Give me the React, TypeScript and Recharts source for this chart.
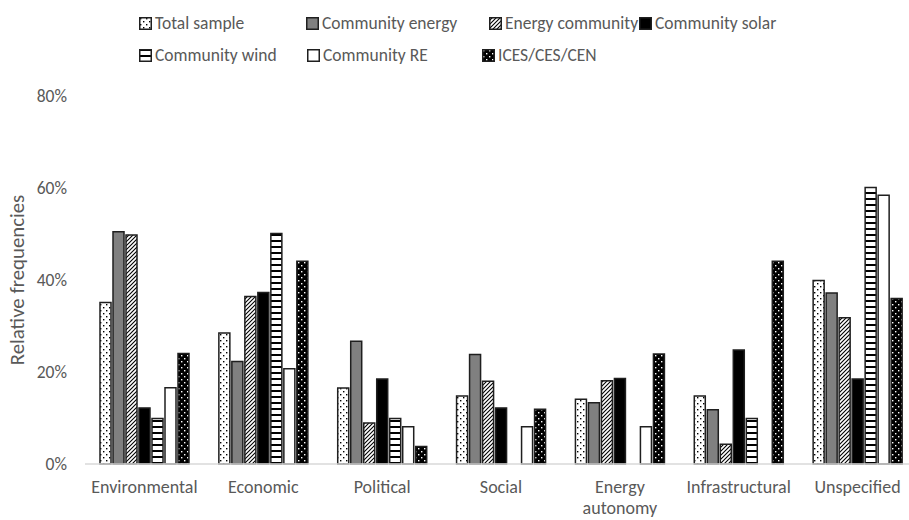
import React from "react";
import { BarChart, Bar, XAxis, YAxis } from "recharts";

const categories = [
  "Environmental",
  "Economic",
  "Political",
  "Social",
  "Energy autonomy",
  "Infrastructural",
  "Unspecified",
];
const tickLines = [
  ["Environmental"],
  ["Economic"],
  ["Political"],
  ["Social"],
  ["Energy", "autonomy"],
  ["Infrastructural"],
  ["Unspecified"],
];

const totalSample = [35.1, 28.5, 16.5, 14.8, 14.1, 14.8, 39.9];
const communityEnergy = [50.5, 22.3, 26.7, 23.8, 13.3, 11.8, 37.2];
const energyCommunity = [49.8, 36.4, 8.9, 18.0, 18.1, 4.3, 31.8];
const communitySolar = [12.2, 37.3, 18.5, 12.2, 18.6, 24.8, 18.5];
const communityWind = [9.9, 50.1, 9.9, 0, 0, 9.9, 60.1];
const communityRE = [16.6, 20.7, 8.1, 8.1, 8.1, 0, 58.4];
const ices = [24.0, 44.1, 3.8, 11.9, 23.9, 44.1, 36.0];

const yTicks = [0, 20, 40, 60, 80];

const series = [
  { key: "total", name: "Total sample", values: totalSample, fill: "url(#pDots)" },
  { key: "ce", name: "Community energy", values: communityEnergy, fill: "#808080" },
  { key: "ec", name: "Energy community", values: energyCommunity, fill: "url(#pDiag)" },
  { key: "cs", name: "Community solar", values: communitySolar, fill: "#000000" },
  { key: "cw", name: "Community wind", values: communityWind, fill: "url(#pHoriz)" },
  { key: "re", name: "Community RE", values: communityRE, fill: "#ffffff" },
  { key: "ices", name: "ICES/CES/CEN", values: ices, fill: "url(#pDotsDark)" },
];

const data = categories.map((c, i) => {
  const row: Record<string, any> = { name: c, idx: i };
  series.forEach((s) => (row[s.key] = s.values[i]));
  return row;
});

// legend placement (rows like the Excel legend)
const legendPos = [
  { x: 139, y: 23 },
  { x: 306, y: 23 },
  { x: 489, y: 23 },
  { x: 639, y: 23 },
  { x: 139, y: 55 },
  { x: 307, y: 55 },
  { x: 482, y: 55 },
];

const FONT = "Calibri, Carlito, 'Liberation Sans', Arial, sans-serif";
const TEXT = "#595959";
const OUTLINE = "#1f1f1f";

function XTick(props: any) {
  const { x, y, payload } = props;
  const lines = tickLines[payload.index] || [String(payload.value)];
  return (
    <text x={x} y={y} textAnchor="middle" fill={TEXT} fontSize={18} fontFamily={FONT}>
      {lines.map((l, i) => (
        <tspan key={i} x={x} dy={i === 0 ? 21 : 21}>
          {l}
        </tspan>
      ))}
    </text>
  );
}

export default function App() {
  return (
    <div
      style={{
        position: "absolute",
        left: 0,
        top: 0,
        width: 909,
        height: 520,
        overflow: "hidden",
        background: "#fff",
        fontFamily: FONT,
      }}
    >
      <svg width={0} height={0} style={{ position: "absolute" }}>
        <defs>
          <pattern id="pDots" width={6} height={6} patternUnits="userSpaceOnUse">
            <rect width={6} height={6} fill="#fff" />
            <rect x={1} y={1} width={1.4} height={1.4} fill="#000" />
            <rect x={4} y={4} width={1.4} height={1.4} fill="#000" />
          </pattern>
          <pattern id="pDotsDark" width={6} height={6} patternUnits="userSpaceOnUse">
            <rect width={6} height={6} fill="#000" />
            <rect x={1} y={1} width={1.4} height={1.4} fill="#fff" />
            <rect x={4} y={4} width={1.4} height={1.4} fill="#fff" />
          </pattern>
          <pattern id="pDiag" width={4} height={4} patternUnits="userSpaceOnUse">
            <rect width={4} height={4} fill="#fff" />
            <path d="M-1,1 l2,-2 M0,4 l4,-4 M3,5 l2,-2" stroke="#000" strokeWidth={1.1} />
          </pattern>
          <pattern id="pHoriz" width={6} height={6} patternUnits="userSpaceOnUse">
            <rect width={6} height={6} fill="#fff" />
            <rect x={0} y={0} width={6} height={2} fill="#000" />
          </pattern>
        </defs>
      </svg>

      {series.map((s, i) => (
        <div
          key={s.key}
          style={{
            position: "absolute",
            left: legendPos[i].x,
            top: legendPos[i].y - 11,
            height: 22,
            display: "flex",
            alignItems: "center",
            whiteSpace: "nowrap",
            fontSize: 17.5,
            color: TEXT,
          }}
        >
          <svg width={13} height={13} style={{ marginRight: 3 }}>
            <rect x={0.75} y={0.75} width={11.5} height={11.5} fill={s.fill} stroke={OUTLINE} strokeWidth={1.5} />
          </svg>
          <span>{s.name}</span>
        </div>
      ))}

      <div
        style={{
          position: "absolute",
          left: 17,
          top: 280,
          transform: "translate(-50%, -50%) rotate(-90deg)",
          whiteSpace: "nowrap",
          fontSize: 20.8,
          color: TEXT,
        }}
      >
        Relative frequencies
      </div>

      <BarChart
        width={920}
        height={520}
        data={data}
        margin={{ top: 96, right: 3, bottom: 0, left: 0 }}
        barGap={2}
        barCategoryGap={15}
        style={{ position: "absolute", left: 0, top: 0 }}
      >
        <XAxis
          dataKey="name"
          height={56}
          axisLine={{ stroke: "#d9d9d9", strokeWidth: 1.5 }}
          tickLine={false}
          tick={<XTick />}
          interval={0}
        />
        <YAxis
          width={85}
          domain={[0, 80]}
          ticks={yTicks}
          axisLine={false}
          tickLine={false}
          tickMargin={12}
          tickFormatter={(v: number) => `${v}%`}
          tick={{ fill: TEXT, fontSize: 17.5, fontFamily: FONT }}
        />
        {series.map((s) => (
          <Bar
            key={s.key}
            dataKey={s.key}
            name={s.name}
            fill={s.fill}
            stroke={OUTLINE}
            strokeWidth={1.5}
            isAnimationActive={false}
          />
        ))}
      </BarChart>
    </div>
  );
}
